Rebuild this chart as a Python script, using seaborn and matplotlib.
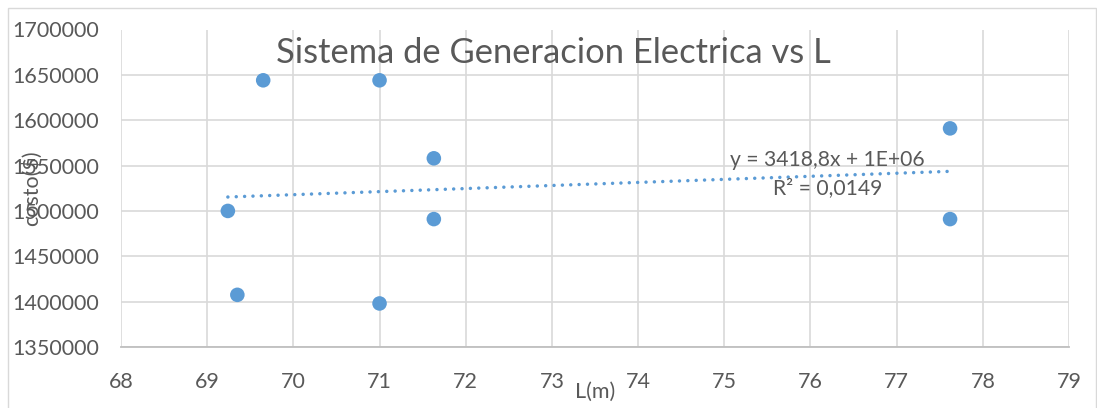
import matplotlib
matplotlib.use("Agg")
import matplotlib.pyplot as plt
from matplotlib.patches import Rectangle
from matplotlib.ticker import MultipleLocator, FuncFormatter
from pandas import DataFrame
import seaborn as sns

# values
largo = [69.24, 69.65, 71.0, 69.35, 71.0, 71.63, 71.63, 77.62, 77.62]
costo = [1500000, 1644000, 1644000, 1407500, 1398000, 1558000, 1491000, 1591000, 1491000]

titulo = 'Sistema de Generacion Electrica vs L'
ecuacion = 'y = 3418,8x + 1E+06'
r2_txt = 'R² = 0,0149'

azul = '#5b9bd5'
gris = '#595959'

sns.set_style('white')
plt.rcParams['font.family'] = ['Lato', 'DejaVu Sans']

df = DataFrame({'L(m)': largo, 'costo($)': costo})

W, H = 1097, 408
fig = plt.figure(figsize=(W / 100, H / 100), dpi=100)
left, right, top, bottom = 121, 1069, 29.5, 347
ax = fig.add_axes([left / W, (H - bottom) / H, (right - left) / W, (bottom - top) / H])

# outer chart border like excel
fig.patches.append(Rectangle((8 / W, -0.05), (1095.5 - 8) / W, (H - 7.5) / H + 0.05,
                             transform=fig.transFigure, fill=False,
                             edgecolor='#d9d9d9', linewidth=1.0))

sns.regplot(data=df, x='L(m)', y='costo($)', scatter=False, ci=None, ax=ax,
            line_kws=dict(color=azul, linestyle=(0, (0.01, 2.4)), linewidth=2.5,
                          dash_capstyle='round'))
sns.scatterplot(data=df, x='L(m)', y='costo($)', ax=ax, color=azul, s=110,
                edgecolor='none', zorder=3)

ax.set_xlim(68, 79)
ax.set_ylim(1350000, 1700000)
ax.xaxis.set_major_locator(MultipleLocator(1))
ax.yaxis.set_major_locator(MultipleLocator(50000))
ax.yaxis.set_major_formatter(FuncFormatter(lambda v, p: f'{int(round(v))}'))
ax.grid(True, color='#d9d9d9', linewidth=1.2)
ax.set_axisbelow(True)
for s in ['top', 'right', 'left']:
    ax.spines[s].set_visible(False)
ax.spines['bottom'].set_color('#bfbfbf')
ax.spines['bottom'].set_linewidth(1.3)
fs = 15.5
ax.tick_params(axis='both', length=0, labelsize=fs, labelcolor=gris)
ax.tick_params(axis='x', pad=18)
ax.tick_params(axis='y', pad=16)

ax.set_xlabel('L(m)', fontsize=fs, color=gris)
ax.xaxis.label.set_va('center')
ax.xaxis.set_label_coords(0.5, -0.14)
ax.set_ylabel('costo($)', fontsize=fs, color=gris)
ax.yaxis.label.set_va('center')
ax.yaxis.set_label_coords(-0.094, 0.50)

ax.text(0.456, 0.896, titulo, transform=ax.transAxes, ha='center', va='baseline',
        fontsize=24.8, color=gris)
ax.text(0.745, 0.571, ecuacion, transform=ax.transAxes, ha='center', va='baseline',
        fontsize=15.2, color=gris)
ax.text(0.745, 0.483, r2_txt, transform=ax.transAxes, ha='center', va='baseline',
        fontsize=15.2, color=gris)

fig.savefig('out.png', dpi=100)
